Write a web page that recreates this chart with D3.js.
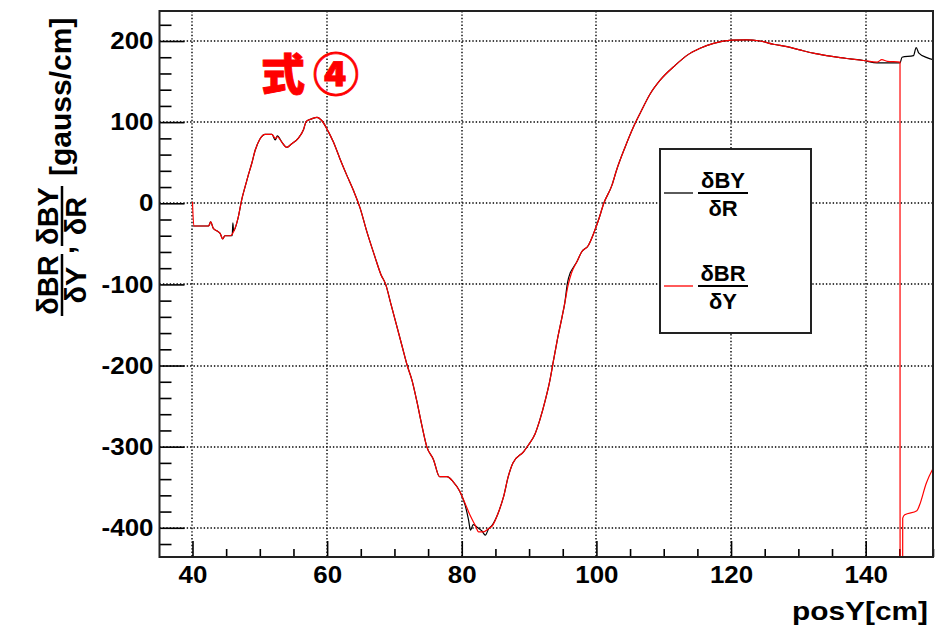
<!DOCTYPE html>
<html>
<head>
<meta charset="utf-8">
<script src="https://cdn.jsdelivr.net/npm/d3@7"></script>
<style>
  html, body { margin: 0; padding: 0; background: #fff; }
  svg { display: block; font-family: "Liberation Sans", Arial, sans-serif; }
</style>
</head>
<body>
<svg id="chart" width="936" height="627"></svg>
<script>
// ---- data ----
const posY_BY = [40.0, 40.2, 41.0, 42.0, 42.4, 42.7, 43.1, 43.6, 44.1, 44.5,
  44.8, 45.6, 45.9, 46.0, 46.1, 46.8, 47.3, 47.8, 48.3, 48.8,
  49.3, 50.0, 50.8, 51.8, 52.3, 52.6, 53.3, 54.0, 54.7, 55.7,
  56.5, 56.9, 57.7, 58.5, 59.2, 60.2, 60.9, 61.9, 62.9, 63.9,
  64.9, 65.9, 67.1, 68.0, 68.7, 69.5, 70.3, 71.1, 71.9, 72.6,
  73.3, 74.0, 74.8, 75.8, 76.7, 77.8, 78.7, 79.7, 80.5, 81.0,
  81.3, 81.7, 82.4, 83.0, 83.5, 84.0, 84.5, 85.4, 86.2, 86.9,
  87.6, 89.2, 89.9, 90.9, 91.6, 92.4, 93.1, 93.6, 94.2, 94.9,
  95.3, 95.7, 96.1, 96.5, 97.1, 97.8, 98.8, 99.6, 100.3, 101.1,
  102.3, 103.0, 104.3, 105.5, 106.5, 108.0, 109.5, 111.7, 113.4, 115.4,
  117.4, 120.1, 122.3, 124.3, 126.3, 128.3, 130.2, 132.2, 134.2, 136.2,
  137.7, 139.7, 141.7, 143.2, 145.1, 145.4, 147.1, 147.5, 147.9, 149.1,
  150.0];
const dBYdR = [-28, -28, -28, -28, -28, -23, -31, -34, -37, -44,
  -40, -40, -40, -24, -34, -17, 4, 20, 35, 49,
  65, 79, 85, 85, 78, 83, 75, 69, 73, 80,
  91, 101, 104, 106, 102, 88, 76, 55, 35, 16,
  -6, -35, -66, -88, -100, -125, -150, -175, -200, -218,
  -243, -271, -300, -316, -337, -337, -343, -355, -372, -390,
  -403, -396, -400, -404, -409, -401, -397, -382, -362, -337,
  -320, -306, -298, -284, -267, -243, -218, -195, -168, -140,
  -123, -98, -86, -80, -72, -60, -52, -37, -21, 0,
  22, 41, 70, 94, 111, 135, 152, 170, 182, 191,
  197, 201, 201.5, 200, 196, 193, 189, 185, 182, 179.5,
  178, 176, 173, 173, 173, 180, 182, 192, 185, 179.5,
  177];

const posY_BR = [40.0, 40.2, 41.0, 42.0, 42.4, 42.7, 43.1, 43.6, 44.1, 44.5,
  44.8, 45.6, 46.1, 46.8, 47.3, 47.8, 48.3, 48.8, 49.3, 50.0,
  50.8, 51.8, 52.3, 52.6, 53.3, 54.0, 54.7, 55.7, 56.5, 56.9,
  57.7, 58.5, 59.2, 60.2, 60.9, 61.9, 62.9, 63.9, 64.9, 65.9,
  67.1, 68.0, 68.7, 69.5, 70.3, 71.1, 71.9, 72.6, 73.3, 74.0,
  74.8, 75.8, 76.7, 77.8, 78.7, 79.7, 80.5, 81.2, 82.0, 82.5,
  83.2, 84.0, 84.5, 85.4, 86.2, 86.9, 87.6, 89.2, 89.9, 90.9,
  91.6, 92.4, 93.1, 93.6, 94.2, 94.9, 95.3, 95.8, 96.3, 97.1,
  97.8, 98.8, 99.6, 100.3, 101.1, 102.3, 103.0, 104.3, 105.5, 106.5,
  108.0, 109.5, 111.7, 113.4, 115.4, 117.4, 120.1, 122.3, 124.3, 126.3,
  128.3, 130.2, 132.2, 134.2, 136.2, 137.7, 139.7, 141.7, 142.4, 143.2,
  145.1, 145.12, 145.45, 145.5, 145.8, 147.6, 148.0, 149.0, 150.0];
const dBRdY = [2, -28, -28, -28, -28, -23, -31, -34, -37, -44,
  -40, -40, -35, -17, 4, 20, 35, 49, 65, 79,
  85, 85, 80, 82, 75, 69, 73, 80, 91, 101,
  104, 106, 102, 88, 76, 55, 35, 16, -6, -35,
  -66, -88, -100, -125, -150, -175, -200, -218, -243, -271,
  -300, -316, -337, -337, -343, -355, -370, -384, -397, -405,
  -405, -401, -398, -382, -362, -337, -320, -306, -298, -284,
  -267, -243, -218, -195, -168, -140, -123, -101, -86, -72,
  -60, -52, -37, -21, 0, 22, 41, 70, 94, 111,
  135, 152, 170, 182, 191, 197, 201, 201.5, 200, 196,
  193, 189, 185, 182, 179.5, 178, 176, 174, 177, 175,
  174, -1000, -1000, -388, -384, -379, -372, -345, -327];

const xMajorTicks = [40, 60, 80, 100, 120, 140];
const yMajorTicks = [-400, -300, -200, -100, 0, 100, 200];
const xLabel = "posY[cm]";
const annotationParts = ["式", "④"];

// ---- layout ----
const svg = d3.select("#chart");
const L = 159.5, R = 933, T = 11, B = 557;
const x = d3.scaleLinear().domain([35.1, 150]).range([L, R]);
const y = d3.scaleLinear().domain([-436, 237]).range([B, T]);

svg.append("rect").attr("width", 936).attr("height", 627).attr("fill", "#fff");

svg.append("defs").append("clipPath").attr("id", "clip")
  .append("rect").attr("x", L).attr("y", T).attr("width", R - L).attr("height", B - T);

// grid (dotted)
const grid = svg.append("g").attr("stroke", "#000").attr("stroke-width", 1.4)
  .attr("stroke-dasharray", "1.4,2");
grid.selectAll(".gx").data(xMajorTicks).join("line")
  .attr("x1", d => Math.round(x(d))).attr("x2", d => Math.round(x(d)))
  .attr("y1", T).attr("y2", B);
grid.selectAll(".gy").data(yMajorTicks).join("line")
  .attr("y1", d => Math.round(y(d))).attr("y2", d => Math.round(y(d)))
  .attr("x1", L).attr("x2", R);

// axes
const xMinor = d3.range(40, 151, 5).filter(v => !xMajorTicks.includes(v));
const yMinor = d3.range(-420, 237, 20).filter(v => !yMajorTicks.includes(v));
const fmt = d => String(d); // plain hyphen-minus like the reference

function widen(sel, factor) {
  sel.each(function () {
    const w = this.getComputedTextLength();
    d3.select(this).attr("textLength", w * factor).attr("lengthAdjust", "spacingAndGlyphs");
  });
}
const axFont = g => g.selectAll("text").attr("font-family", "Liberation Sans, Arial, sans-serif")
  .attr("font-weight", "bold").attr("font-size", 24).attr("fill", "#000");

const gxMinor = svg.append("g").attr("transform", `translate(0,${B})`)
  .call(d3.axisBottom(x).tickValues(xMinor).tickSize(-8).tickFormat(""));
const gx = svg.append("g").attr("transform", `translate(0,${B})`)
  .call(d3.axisBottom(x).tickValues(xMajorTicks).tickSize(-16).tickPadding(9).tickFormat(fmt));
gx.call(axFont);
const gyMinor = svg.append("g").attr("transform", `translate(${L},0)`)
  .call(d3.axisLeft(y).tickValues(yMinor).tickSize(-12).tickFormat(""));
const gy = svg.append("g").attr("transform", `translate(${L},0)`)
  .call(d3.axisLeft(y).tickValues(yMajorTicks).tickSize(-25).tickPadding(6).tickFormat(fmt));
gy.call(axFont);
widen(gx.selectAll("text"), 1.08);
widen(gy.selectAll("text"), 1.08);
[gx, gxMinor, gy, gyMinor].forEach(g => {
  g.select(".domain").remove();
  g.selectAll(".tick line").attr("stroke", "#000").attr("stroke-width", 1.6);
});

// data lines
const line = d3.line().x(d => x(d[0])).y(d => y(d[1])).curve(d3.curveMonotoneX);
const plot = svg.append("g").attr("clip-path", "url(#clip)");
plot.append("path").datum(d3.zip(posY_BY, dBYdR))
  .attr("d", line).attr("fill", "none").attr("stroke", "#000").attr("stroke-width", 1.2);
plot.append("path").datum(d3.zip(posY_BR, dBRdY))
  .attr("d", line).attr("fill", "none").attr("stroke", "#ff0000").attr("stroke-width", 1.2);

// frame
svg.append("rect").attr("x", L).attr("y", T).attr("width", R - L).attr("height", B - T)
  .attr("fill", "none").attr("stroke", "#222").attr("stroke-width", 2);

// x axis title
svg.append("text").attr("x", 928).attr("y", 620).attr("text-anchor", "end")
  .attr("font-weight", "bold").attr("font-size", 26).attr("fill", "#000")
  .attr("textLength", 136).attr("lengthAdjust", "spacingAndGlyphs").text(xLabel);

// y axis title (rotated, with fractions)
const yt = svg.append("g").attr("transform", "translate(62,316) rotate(-90)")
  .attr("font-weight", "bold").attr("fill", "#000");
function frac(g, u0, len, num, den, size) {
  g.append("line").attr("x1", u0).attr("x2", u0 + len).attr("y1", 0).attr("y2", 0)
    .attr("stroke", "#000").attr("stroke-width", 2.5);
  g.append("text").attr("x", u0 + len / 2).attr("y", -4).attr("text-anchor", "middle")
    .attr("font-size", size).text(num);
  g.append("text").attr("x", u0 + len / 2).attr("y", 24).attr("text-anchor", "middle")
    .attr("font-size", size).text(den);
}
frac(yt, 0, 62, "δBR", "δY", 29);
yt.append("text").attr("x", 62).attr("y", 12).attr("font-size", 29).text(",");
frac(yt, 70, 60, "δBY", "δR", 29);
yt.append("text").attr("x", 140).attr("y", 9).attr("font-size", 30).text("[gauss/cm]");

// legend
const leg = svg.append("g");
leg.append("rect").attr("x", 660).attr("y", 149).attr("width", 151).attr("height", 184)
  .attr("fill", "#fff").attr("stroke", "#222").attr("stroke-width", 2);
const legItems = [
  { num: "δBY", den: "δR", color: "#000", yy: 193 },
  { num: "δBR", den: "δY", color: "#ff0000", yy: 286 }
];
legItems.forEach(it => {
  leg.append("line").attr("x1", 664).attr("x2", 693).attr("y1", it.yy).attr("y2", it.yy)
    .attr("stroke", it.color).attr("stroke-width", 1.3);
  leg.append("line").attr("x1", 698).attr("x2", 748).attr("y1", it.yy).attr("y2", it.yy)
    .attr("stroke", "#000").attr("stroke-width", 2);
  leg.append("text").attr("x", 723).attr("y", it.yy - 5).attr("text-anchor", "middle")
    .attr("font-weight", "bold").attr("font-size", 22).text(it.num);
  leg.append("text").attr("x", 723).attr("y", it.yy + 23).attr("text-anchor", "middle")
    .attr("font-weight", "bold").attr("font-size", 22).text(it.den);
});

// annotation
const ann = svg.append("text").attr("y", 91)
  .attr("font-family", "Noto Sans CJK JP, sans-serif").attr("font-weight", "900")
  .attr("fill", "#ff0000").attr("stroke", "#ff0000").attr("stroke-width", 0.8);
ann.append("tspan").attr("x", 261).attr("font-size", 44).text(annotationParts[0]);
ann.append("tspan").attr("x", 313).attr("font-size", 46).text(annotationParts[1]);
</script>
</body>
</html>
